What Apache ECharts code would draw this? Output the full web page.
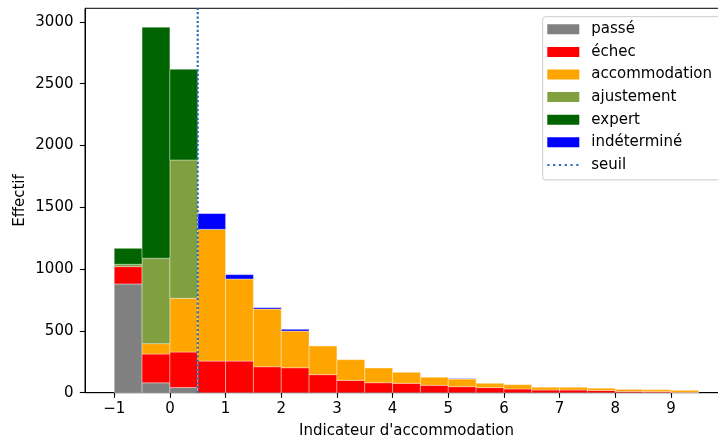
<!DOCTYPE html>
<html>
<head>
<meta charset="utf-8">
<script src="https://cdn.jsdelivr.net/npm/echarts@6/dist/echarts.min.js"></script>
<style>
html,body{margin:0;padding:0;background:#fff;}
#c{width:718px;height:441px;}
</style>
</head>
<body>
<div id="c"></div>
<script>
// Bin edges: -1 to 9.5 step 0.5 (21 bins)
const binStart = [-1,-0.5,0,0.5,1,1.5,2,2.5,3,3.5,4,4.5,5,5.5,6,6.5,7,7.5,8,8.5,9];
const binWidth = 0.5;
const seriesNames = ['passé','échec','accommodation','ajustement','expert','indéterminé'];
const passe        = [880, 80, 42, 0, 0, 0, 0, 0, 0, 0, 0, 0, 0, 0, 0, 0, 0, 0, 0, 0, 0];
const echec        = [140, 233, 287, 256, 256, 210, 202, 146, 100, 81, 76, 60, 49, 41, 30, 22, 22, 18, 11, 8, 3];
const accommodation= [0, 84, 435, 1066, 664, 467, 297, 232, 167, 119, 89, 65, 62, 35, 35, 22, 22, 18, 16, 16, 16];
const ajustement   = [19, 691, 1119, 0, 0, 0, 0, 0, 0, 0, 0, 0, 0, 0, 0, 0, 0, 0, 0, 0, 0];
const expert       = [129, 1869, 734, 0, 0, 0, 0, 0, 0, 0, 0, 0, 0, 0, 0, 0, 0, 0, 0, 0, 0];
const indetermine  = [0, 0, 0, 127, 35, 11, 14, 0, 0, 0, 0, 0, 3, 0, 0, 0, 0, 0, 0, 0, 0];
const seuil = 0.5;
const xTicks = [-1,0,1,2,3,4,5,6,7,8,9];
const yTicks = [0,500,1000,1500,2000,2500,3000];
const colors = ['#808080','#ff0000','#ffa500','#80a040','#006400','#0000ff'];

const allSeries = [passe, echec, accommodation, ajustement, expert, indetermine];
const base = binStart.map(() => 0);
const FONT = 'DejaVu Sans';
const FS = 15;

function renderItem(params, api) {
  const x0 = api.value(0), x1 = api.value(1), y0 = api.value(2), y1 = api.value(3);
  if (!(y1 > y0)) return null;
  const p0 = api.coord([x0, y0]);
  const p1 = api.coord([x1, y1]);
  return {
    type: 'rect',
    shape: {x: p0[0], y: p1[1], width: p1[0] - p0[0], height: p0[1] - p1[1]},
    style: {fill: api.visual('color'), stroke: 'rgba(255,255,255,0.45)', lineWidth: 0.8}
  };
}

const series = allSeries.map((vals, si) => {
  const data = vals.map((v, i) => {
    const item = [binStart[i], binStart[i] + binWidth, base[i], base[i] + v];
    base[i] += v;
    return item;
  });
  return {
    name: seriesNames[si],
    type: 'custom',
    renderItem: renderItem,
    encode: {x: [0, 1], y: [2, 3]},
    itemStyle: {color: colors[si]},
    data: data,
    z: 2
  };
});

const yMax = 3110;
series.push({
  name: 'seuil',
  type: 'line',
  data: [[seuil, 0], [seuil, yMax]],
  symbol: 'none',
  color: '#2f6fb8',
  itemStyle: {color: '#2f6fb8'},
  lineStyle: {color: '#2f6fb8', width: 2.2, type: [2.2, 2.2], cap: 'butt'},
  z: 5,
  silent: true
});

const dotIcon = 'path://M0,0M32,10M0,4h2.2v2h-2.2zM5.8,4h2.2v2h-2.2zM11.6,4h2.2v2h-2.2zM17.4,4h2.2v2h-2.2zM23.2,4h2.2v2h-2.2zM29,4h2.2v2h-2.2z';

const chart = echarts.init(document.getElementById('c'), null, {renderer: 'canvas'});
chart.setOption({
  animation: false,
  backgroundColor: '#fff',
  textStyle: {fontFamily: FONT},
  grid: {left: 85, top: 8.3, right: -10, bottom: 48.3, show: true, borderColor: '#000', borderWidth: 1,
    backgroundColor: 'transparent', containLabel: false, outerBoundsMode: 'none'},
  legend: {
    orient: 'vertical',
    left: 542.7,
    top: 16.7,
    itemWidth: 32,
    itemHeight: 10,
    itemGap: 6.6,
    padding: [4.6, 8, 7, 4.6],
    backgroundColor: 'rgba(255,255,255,0.8)',
    borderColor: '#cccccc',
    borderWidth: 1,
    borderRadius: 3,
    selectedMode: false,
    textStyle: {fontFamily: FONT, fontSize: FS, color: '#000', lineHeight: 16, padding: [0, 0, 0, 7]},
    data: seriesNames.map((n, i) => ({name: n, icon: 'rect', itemStyle: {color: colors[i], borderWidth: 0}}))
      .concat([{name: 'seuil', icon: dotIcon, itemStyle: {color: '#2f6fb8', borderWidth: 0}}])
  },
  xAxis: {
    type: 'value',
    min: -1.525,
    max: 10.025,
    name: "Indicateur d'accommodation",
    nameLocation: 'middle',
    nameGap: 31,
    nameMoveOverlap: false,
    nameTextStyle: {fontFamily: FONT, fontSize: FS, color: '#000'},
    axisLine: {show: true, onZero: false, lineStyle: {color: '#000', width: 1}},
    axisTick: {show: true, length: 5.2, lineStyle: {color: '#000', width: 1.1}, customValues: xTicks},
    axisLabel: {fontFamily: FONT, fontSize: FS, color: '#000', margin: 9, customValues: xTicks,
      formatter: v => String(v).replace('-', '\u2212')},
    splitLine: {show: false}
  },
  yAxis: {
    type: 'value',
    min: 0,
    max: yMax,
    name: 'Effectif',
    nameLocation: 'middle',
    nameGap: 57,
    nameMoveOverlap: false,
    nameTextStyle: {fontFamily: FONT, fontSize: FS, color: '#000'},
    axisLine: {show: true, onZero: false, lineStyle: {color: '#000', width: 1}},
    axisTick: {show: true, length: 5.2, lineStyle: {color: '#000', width: 1.1}, customValues: yTicks},
    axisLabel: {fontFamily: FONT, fontSize: FS, color: '#000', margin: 11.5, customValues: yTicks,
      formatter: v => String(v)},
    splitLine: {show: false}
  },
  series: series
});
</script>
</body>
</html>
